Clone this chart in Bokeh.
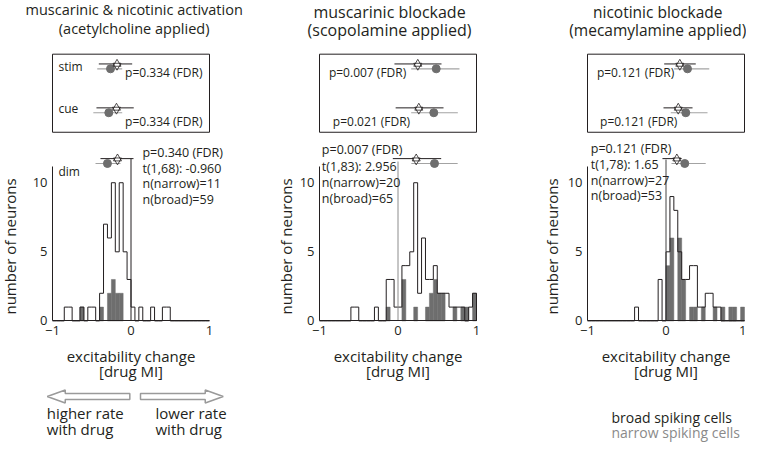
import numpy as np
from bokeh.plotting import figure
from bokeh.models import Range1d, LinearAxis, FixedTicker
from bokeh.layouts import row
from bokeh.embed import file_html
from bokeh.resources import INLINE
from bokeh.core.properties import value

# ---------------- data ----------------
title_line1 = ["muscarinic & nicotinic activation", "muscarinic blockade", "nicotinic blockade"]
title_line2 = ["(acetylcholine applied)", "(scopolamine applied)", "(mecamylamine applied)"]
epochs = ["stim", "cue", "dim"]
xticks = [-1, 0, 1]
yticks = [0, 5, 10]

# histogram bins of drug MI, width 0.05 from -1 to 1
bin_edges = np.round(np.linspace(-1.0, 1.0, 41), 3)

broad_ach = [0, 0, 0, 1, 1, 0, 0, 1, 0, 1, 1, 0, 2, 7, 6, 10, 5, 10, 5, 3,
             1, 0, 1, 0, 0, 1, 0, 0, 1, 1, 0, 0, 0, 0, 0, 0, 0, 0, 0, 0]
narrow_ach = [0, 0, 0, 0, 0, 0, 0, 1, 0, 0, 0, 0, 1, 0, 2, 3, 2, 2, 0, 0,
              0, 0, 0, 0, 0, 0, 0, 0, 0, 0, 0, 0, 0, 0, 0, 0, 0, 0, 0, 0]
broad_scop = [0, 0, 0, 0, 0, 0, 0, 0, 1, 1, 0, 0, 0, 0, 1, 0, 0, 3, 3, 1,
              1, 4, 4, 5, 10, 2, 6, 3, 3, 4, 2, 2, 2, 1, 1, 1, 1, 0, 1, 2]
narrow_scop = [0, 0, 0, 0, 0, 0, 0, 0, 0, 0, 0, 0, 0, 0, 0, 0, 0, 1, 0, 0,
               0, 3, 0, 0, 1, 0, 0, 1, 2, 3, 2, 2, 0, 0, 1, 0, 1, 1, 0, 2]
broad_mec = [0, 0, 0, 0, 0, 0, 0, 0, 0, 0, 0, 0, 1, 0, 0, 0, 0, 0, 3, 0,
             5, 9, 8, 5, 3, 3, 4, 4, 1, 1, 2, 2, 1, 1, 0, 0, 0, 0, 0, 0]
narrow_mec = [0, 0, 0, 0, 0, 0, 0, 0, 0, 0, 0, 0, 0, 0, 0, 0, 0, 0, 0, 0,
              4, 6, 0, 6, 3, 0, 1, 1, 0, 1, 0, 0, 1, 0, 1, 0, 1, 1, 0, 1]

# mean and CI of drug MI per epoch [stim, cue, dim]
broad_mean = [[-0.178, -0.185, -0.172], [0.252, 0.265, 0.232], [0.176, 0.156, 0.138]]
broad_lo = [[-0.41, -0.44, -0.389], [-0.045, -0.03, -0.066], [-0.023, -0.032, -0.045]]
broad_hi = [[0.015, 0.035, 0.032], [0.554, 0.58, 0.55], [0.379, 0.338, 0.20]]
narrow_mean = [[-0.261, -0.283, -0.30], [0.487, 0.456, 0.465], [0.274, 0.252, 0.239]]
narrow_lo = [[-0.43, -0.48, -0.452], [0.168, 0.168, 0.17], [0.103, 0.061, 0.07]]
narrow_hi = [[-0.112, -0.112, -0.134], [0.783, 0.762, 0.76], [0.551, 0.529, 0.506]]

p_fdr = [["p=0.334 (FDR)", "p=0.334 (FDR)", "p=0.340 (FDR)"],
         ["p=0.007 (FDR)", "p=0.021 (FDR)", "p=0.007 (FDR)"],
         ["p=0.121 (FDR)", "p=0.121 (FDR)", "p=0.121 (FDR)"]]
t_stats = ["t(1,68): -0.960", "t(1,83): 2.956", "t(1,78): 1.65"]
n_narrow = [11, 20, 27]
n_broad = [59, 65, 53]
broad_hists = [broad_ach, broad_scop, broad_mec]
narrow_hists = [narrow_ach, narrow_scop, narrow_mec]

# ---------------- layout / style ----------------
FONT = value("Open Sans")
INK = "#231f20"
GRAY_BAR = "#6e6e6e"
GRAY_LINE = "#a3a3a3"
GRAY_TEXT = "#8a8a8a"
SX = 78.5            # px per MI unit
KY = 0.976           # vertical squeeze of the upper part
SY = 14.16 * KY      # px per neuron count
H = 443
fig_left = [0, 262, 510]
fig_w = [262, 248, 236]
axis_left = [52, 319, 587]
title_cx = [0.04, -0.108, -0.105]
title_size = ["14.5px", "16px", "15.5px"]
title_y = [[9.3, 28.3], [11.5, 30.5], [11.5, 30.5]]
ylabel_dx = [-43, -34, -36]
zero_line_color = [INK, "#8c8c8c", "#444444"]
zero_line_top = [162, 165, 163]
stats_left = [0.146, -0.97, -0.958]
stats_y = [[156, 172, 188, 203.5], [153, 170, 186.5, 202.5], [152, 168, 184, 200]]
pbox_left = [[-0.075, -0.075], [-0.88, -0.83], [-0.88, -0.84]]
pbox_y = [73.5, 124]
row_star = [65, 110, 162]
row_circ = [70, 115, 167]


def Y(ref):
    # reference pixel row -> figure pixel row
    if ref <= 328.3:
        return ref * KY
    return 328.3 * KY + (ref - 328.3) * 0.913


Y0 = Y(328.3)


def yv(ref):
    return (Y0 - Y(ref)) / SY


def make_panel(i):
    xs = -1 - (axis_left[i] - fig_left[i]) / SX
    xe = xs + fig_w[i] / SX
    p = figure(width=fig_w[i], height=H, x_range=Range1d(xs, xe),
               y_range=Range1d((Y0 - H) / SY, Y0 / SY),
               x_axis_type=None, y_axis_type=None, output_backend="svg",
               toolbar_location=None, min_border=0)
    p.outline_line_color = None

    # titles
    p.text(x=[title_cx[i]] * 2, y=[yv(v) for v in title_y[i]],
           text=[title_line1[i], title_line2[i]],
           text_font=FONT, text_font_size=title_size[i], text_align="center",
           text_baseline="middle", text_color=INK)

    # inset box
    p.quad(left=[-1], right=[1], bottom=[yv(135)], top=[yv(55)],
           fill_color=None, line_color=INK, line_width=1)

    # histograms
    nh = np.array(narrow_hists[i])
    centers = (bin_edges[:-1] + bin_edges[1:]) / 2
    m = nh > 0
    p.vbar(x=centers[m], top=nh[m], bottom=0, width=0.05,
           fill_color=GRAY_BAR, line_color=GRAY_BAR, line_width=0.5)
    bh = broad_hists[i]
    sx, sy = [bin_edges[0]], [0]
    for k, c in enumerate(bh):
        sx += [bin_edges[k], bin_edges[k + 1]]
        sy += [c, c]
    sx.append(bin_edges[-1]); sy.append(0)
    p.line(sx, sy, line_color=INK, line_width=1)

    # zero line
    p.segment(x0=[0], y0=[0], x1=[0], y1=[yv(zero_line_top[i])],
              line_color=zero_line_color[i], line_width=1)

    # error bars (CI) and means
    ys_b = [yv(v) for v in row_star]
    ys_n = [yv(v) for v in row_circ]
    p.segment(x0=narrow_lo[i], x1=narrow_hi[i], y0=ys_n, y1=ys_n,
              line_color=GRAY_LINE, line_width=1.2)
    p.segment(x0=broad_lo[i], x1=broad_hi[i], y0=ys_b, y1=ys_b,
              line_color=INK, line_width=1)
    p.scatter(x=narrow_mean[i], y=ys_n, marker="circle", size=8,
              fill_color=GRAY_BAR, line_color=GRAY_BAR)
    p.scatter(x=broad_mean[i], y=ys_b, marker="triangle", size=8,
              fill_color="white", line_color=INK, line_width=0.8)
    p.scatter(x=broad_mean[i], y=[v - 0.12 for v in ys_b], marker="inverted_triangle", size=8,
              fill_color=None, line_color=INK, line_width=0.8)

    # p-values in the inset
    p.text(x=pbox_left[i], y=[yv(v) for v in pbox_y], text=p_fdr[i][:2],
           text_font=FONT, text_font_size="12px", text_align="left",
           text_baseline="middle", text_color=INK)

    # stats text
    st = [p_fdr[i][2], t_stats[i], "n(narrow)=%d" % n_narrow[i], "n(broad)=%d" % n_broad[i]]
    p.text(x=[stats_left[i]] * 4, y=[yv(v) for v in stats_y[i]], text=st,
           text_font=FONT, text_font_size="12.5px", text_align="left",
           text_baseline="middle", text_color=INK)

    # axes
    xa = LinearAxis(fixed_location=0, bounds=(-1, 1), ticker=FixedTicker(ticks=xticks))
    ya = LinearAxis(fixed_location=-1, bounds=(0, 11.2), ticker=FixedTicker(ticks=yticks))
    for ax in (xa, ya):
        ax.major_tick_in = 0
        ax.major_tick_out = 0
        ax.minor_tick_in = 0
        ax.minor_tick_out = 0
        ax.axis_line_color = INK
        ax.major_label_text_font = "Open Sans"
        ax.major_label_text_font_size = "13px"
        ax.major_label_text_color = INK
    xa.major_label_standoff = 5
    ya.major_label_standoff = 5
    p.add_layout(xa, "below")
    p.add_layout(ya, "left")

    # axis labels
    p.text(x=[-1 + ylabel_dx[i] / SX], y=[yv(252)], text=["number of neurons"], angle=np.pi / 2,
           text_font=FONT, text_font_size="15px", text_align="center",
           text_baseline="middle", text_color=INK)
    p.text(x=[0, 0], y=[yv(367), yv(383)], text=["excitability change", "[drug MI]"],
           text_font=FONT, text_font_size="15px", text_align="center",
           text_baseline="middle", text_color=INK)
    return p


panels = [make_panel(i) for i in range(3)]

# epoch labels in first panel
p1 = panels[0]
p1.text(x=[-1 + 6 / SX] * 3, y=[yv(68), yv(111), yv(175)], text=epochs,
        text_font=FONT, text_font_size="12px", text_align="left",
        text_baseline="middle", text_color=INK)

# direction arrows (hollow) below first panel
arrow_tail = [-0.015, 0.121]
arrow_tip = [-1.067, 1.175]
ay = yv(411)
head_len = 18 / SX
shaft_h = 3 / SY
head_h = 6.5 / SY
for t0, t1 in zip(arrow_tail, arrow_tip):
    d = 1 if t1 > t0 else -1
    hb = t1 - d * head_len
    xs = [t0, hb, hb, t1, hb, hb, t0]
    ys = [ay + shaft_h, ay + shaft_h, ay + head_h, ay, ay - head_h, ay - shaft_h, ay - shaft_h]
    p1.patch(xs, ys, fill_color="white", line_color="#9a9a9a", line_width=1.5)
p1.text(x=[-1.073] * 2, y=[yv(429), yv(447)], text=["higher rate", "with drug"],
        text_font=FONT, text_font_size="15px", text_align="left",
        text_baseline="middle", text_color=INK)
p1.text(x=[0.312] * 2, y=[yv(429), yv(447)], text=["lower rate", "with drug"],
        text_font=FONT, text_font_size="15px", text_align="left",
        text_baseline="middle", text_color=INK)

# legend text in third panel
p3 = panels[2]
p3.text(x=[-1 + (624 - 600) / SX] * 2, y=[yv(434), yv(450)],
        text=["broad spiking cells", "narrow spiking cells"],
        text_font=FONT, text_font_size="14px", text_align="left",
        text_baseline="middle", text_color=[INK, GRAY_TEXT])

layout = row(*panels, spacing=0)
open("out.html", "w").write(file_html(layout, INLINE))
